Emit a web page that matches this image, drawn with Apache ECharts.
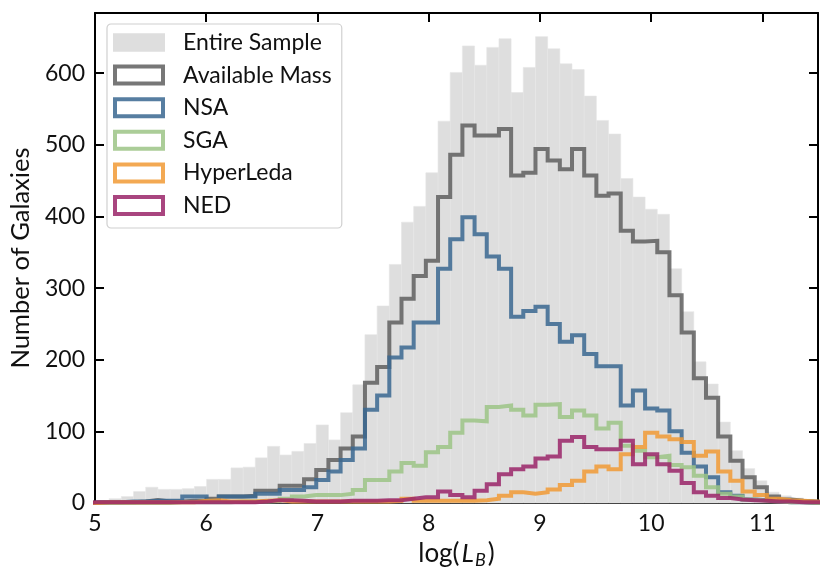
<!DOCTYPE html>
<html>
<head>
<meta charset="utf-8">
<script src="https://cdn.jsdelivr.net/npm/echarts@6/dist/echarts.min.js"></script>
<style>
  html, body { margin: 0; padding: 0; background: #fff; }
  #chart { width: 830px; height: 583px; }
</style>
</head>
<body>
<div id="chart"></div>
<script>
// histogram bins: equal width, first edge just below 5
var binStart = 4.9085;
var binWidth = 0.1095;

// counts per bin (bin 0 = 4.91-5.02, then one per 0.1095 in log L_B)
var entireSample = [1,
  2, 6, 9, 16, 22, 19, 19, 20, 23, 33, 33, 49, 50, 63, 79, 67, 72, 83, 109, 88,
  126, 165, 235, 275, 333, 392, 414, 461, 533, 601, 638, 611, 636, 648, 573, 608, 651, 634, 613, 605,
  568, 534, 515, 453, 427, 410, 403, 327, 267, 197, 166, 113, 73, 48, 31, 15, 10, 7, 5, 4];
var availableMass = [1,
  1, 1, 1, 2, 4, 2, 2, 3, 3, 6, 9, 9, 10, 17, 17, 24, 24, 33, 46, 60,
  76, 93, 168, 190, 252, 285, 317, 338, 427, 486, 527, 513, 513, 522, 457, 461, 494, 478, 466, 494,
  457, 429, 432, 380, 365, 366, 350, 290, 238, 174, 147, 93, 59, 36, 22, 9, 5, 3, 2, 1];
var nsa = [0,
  1, 1, 2, 2, 3, 3, 3, 9, 9, 4, 9, 9, 9, 13, 13, 18, 18, 22, 32, 44,
  60, 76, 130, 150, 203, 217, 252, 252, 327, 368, 399, 375, 344, 327, 260, 268, 274, 250, 225, 234,
  208, 191, 191, 136, 157, 132, 129, 100, 70, 51, 36, 15, 10, 5, 4, 2, 1, 1, 0, 0];
var sga = [0,
  0, 0, 0, 0, 0, 0, 1, 1, 1, 1, 1, 2, 2, 2, 3, 6, 9, 11, 11, 11,
  13, 18, 32, 32, 44, 56, 52, 71, 78, 98, 115, 114, 134, 136, 130, 122, 137, 138, 120, 129,
  122, 104, 112, 80, 73, 64, 66, 53, 50, 38, 22, 13, 9, 5, 3, 2, 1, 1, 0, 0];
var hyperLeda = [0,
  1, 1, 1, 1, 1, 1, 1, 1, 3, 4, 2, 2, 2, 3, 4, 2, 2, 2, 2, 2,
  2, 2, 2, 2, 3, 6, 3, 3, 3, 3, 3, 4, 6, 10, 15, 13, 15, 19, 25, 31,
  44, 51, 47, 68, 78, 98, 93, 89, 85, 66, 72, 44, 31, 16, 11, 6, 4, 3, 2, 1];
var ned = [1,
  1, 1, 1, 1, 1, 1, 1, 1, 1, 1, 1, 1, 1, 2, 4, 4, 3, 2, 2, 2,
  3, 3, 3, 4, 4, 6, 8, 8, 16, 11, 8, 17, 26, 40, 47, 51, 62, 65, 87, 92,
  78, 75, 75, 87, 54, 68, 54, 45, 28, 15, 10, 7, 5, 4, 3, 2, 2, 1, 1, 1];

var xTicks = [5, 6, 7, 8, 9, 10, 11];
var yTicks = [0, 100, 200, 300, 400, 500, 600];

var edges = [];
for (var i = 0; i <= entireSample.length; i++) {
  edges.push(+(binStart + i * binWidth).toFixed(4));
}

// step outline like matplotlib histtype='step'
function stepData(counts) {
  var pts = [[edges[0], 0]];
  for (var i = 0; i < counts.length; i++) {
    pts.push([edges[i], counts[i]]);
  }
  pts.push([edges[counts.length], 0]);
  return pts;
}

var barData = entireSample.map(function (v, i) {
  return [edges[i], edges[i + 1], v];
});

var FONT = 'Lato';
var frameIcon = 'path://M0,0H52V21H0Z M4,4V17H48V4Z';

function stepSeries(name, color, counts) {
  return {
    name: name,
    type: 'line',
    step: 'end',
    symbol: 'none',
    color: color,
    clip: true,
    lineStyle: { width: 4, color: color, opacity: 0.85, join: 'miter' },
    itemStyle: { color: color, opacity: 0.85 },
    data: stepData(counts)
  };
}

var chart = echarts.init(document.getElementById('chart'));

var axisCommon = {
  type: 'value',
  axisLine: { show: true, onZero: false, lineStyle: { color: '#000', width: 2 } },
  axisTick: { show: true, inside: true, length: 9, lineStyle: { color: '#000', width: 2 } },
  splitLine: { show: false }
};

var option = {
  animation: false,
  backgroundColor: '#fff',
  textStyle: { fontFamily: FONT },
  grid: { left: 95, right: 12, top: 13, bottom: 80 },
  legend: {
    orient: 'vertical',
    left: 107,
    top: 24,
    padding: [7, 10, 11, 6],
    itemWidth: 52,
    itemHeight: 21,
    itemGap: 9.6,
    borderColor: '#d0d0d0',
    borderWidth: 1.2,
    borderRadius: 4,
    textStyle: { fontFamily: FONT, fontSize: 23, color: '#111', padding: [0, 0, 0, 13] },
    data: [
      { name: 'Entire Sample', icon: 'path://M2,2H50V19H2Z' },
      { name: 'Available Mass', icon: frameIcon },
      { name: 'NSA', icon: frameIcon },
      { name: 'SGA', icon: frameIcon },
      { name: 'HyperLeda', icon: frameIcon },
      { name: 'NED', icon: frameIcon }
    ]
  },
  xAxis: [
    Object.assign({}, axisCommon, {
      min: xTicks[0], max: 11.5, interval: 1,
      axisLabel: {
        color: '#111', fontSize: 23, margin: 9, fontFamily: FONT,
        showMaxLabel: false,
        formatter: function (v) { return xTicks.indexOf(v) >= 0 ? String(v) : ''; }
      },
      name: '{a|log(}{i|L}{s|B}{a|)}',
      nameLocation: 'middle',
      nameGap: 36,
      nameTextStyle: {
        rich: {
          a: { fontSize: 26, fontFamily: FONT, color: '#111' },
          i: { fontSize: 26, fontFamily: FONT, fontStyle: 'italic', color: '#111', padding: [0, 1, 0, 2] },
          s: { fontSize: 18, fontFamily: FONT, fontStyle: 'italic', color: '#111', verticalAlign: 'bottom', padding: [12, 2, 0, 0] }
        }
      }
    }),
    Object.assign({}, axisCommon, {
      position: 'top', min: xTicks[0], max: 11.5, interval: 1,
      axisLabel: { show: false }
    })
  ],
  yAxis: [
    Object.assign({}, axisCommon, {
      min: yTicks[0], max: 684, interval: 100,
      axisLabel: {
        color: '#111', fontSize: 23, margin: 10, fontFamily: FONT,
        showMaxLabel: false,
        formatter: function (v) { return yTicks.indexOf(v) >= 0 ? String(v) : ''; }
      },
      name: 'Number of Galaxies',
      nameLocation: 'middle',
      nameGap: 55,
      nameTextStyle: { fontSize: 25.5, fontFamily: FONT, color: '#111' }
    }),
    Object.assign({}, axisCommon, {
      position: 'right', min: yTicks[0], max: 684, interval: 100,
      axisLabel: { show: false }
    })
  ],
  series: [
    {
      name: 'Entire Sample',
      type: 'custom',
      color: '#dedede',
      itemStyle: { color: '#dedede' },
      encode: { x: [0, 1], y: 2 },
      data: barData,
      renderItem: function (params, api) {
        var p0 = api.coord([api.value(0), api.value(2)]);
        var p1 = api.coord([api.value(1), 0]);
        var shape = echarts.graphic.clipRectByRect(
          { x: p0[0], y: p0[1], width: p1[0] - p0[0], height: p1[1] - p0[1] },
          { x: params.coordSys.x, y: params.coordSys.y, width: params.coordSys.width, height: params.coordSys.height }
        );
        return shape && {
          type: 'rect',
          shape: shape,
          style: { fill: '#dedede', stroke: '#e6e6e6', lineWidth: 0.6 }
        };
      }
    },
    stepSeries('Available Mass', '#5f5f5f', availableMass),
    stepSeries('NSA', '#3a6790', nsa),
    stepSeries('SGA', '#9cc486', sga),
    stepSeries('HyperLeda', '#f19a35', hyperLeda),
    stepSeries('NED', '#9a2468', ned)
  ]
};

chart.setOption(option);
</script>
</body>
</html>
